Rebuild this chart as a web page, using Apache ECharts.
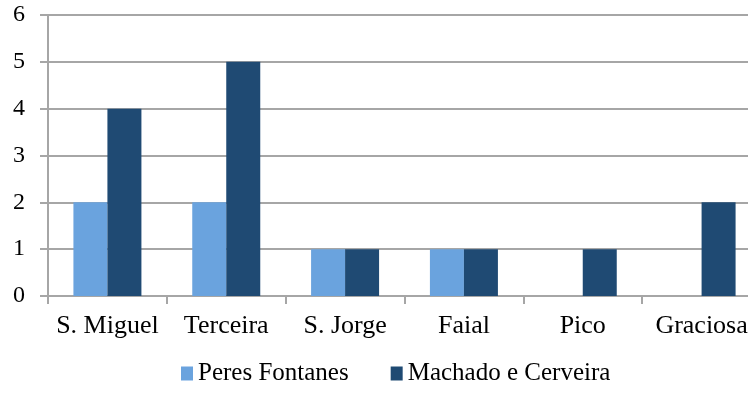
<!DOCTYPE html>
<html>
<head>
<meta charset="utf-8">
<script src="https://cdn.jsdelivr.net/npm/echarts@6/dist/echarts.min.js"></script>
<style>
  html, body { margin: 0; padding: 0; background: #fff; overflow: hidden; }
  /* o gráfico original está cortado à direita, por isso é mais largo que a janela */
  #chart { width: 761px; height: 405px; }
</style>
</head>
<body>
<div id="chart"></div>
<script>
  // dados
  var ilhas = ['S. Miguel', 'Terceira', 'S. Jorge', 'Faial', 'Pico', 'Graciosa'];
  var peresFontanes = [2, 2, 1, 1, 0, 0];
  var machadoCerveira = [4, 5, 1, 1, 1, 2];
  var yTicks = [0, 1, 2, 3, 4, 5, 6];

  var fonte = 'Liberation Serif';
  var cinza = '#a6a6a6';

  var myChart = echarts.init(document.getElementById('chart'));
  myChart.setOption({
    animation: false,
    textStyle: { fontFamily: fonte },
    grid: { left: 48, right: 0, top: 15, bottom: 109 },
    legend: {
      top: 356,
      left: 176,
      itemWidth: 12,
      itemHeight: 14,
      itemGap: 42,
      icon: 'rect',
      textStyle: { fontFamily: fonte, fontSize: 25, color: '#000' },
      data: ['Peres Fontanes', 'Machado e Cerveira']
    },
    xAxis: {
      type: 'category',
      data: ilhas,
      axisLine: { lineStyle: { color: cinza, width: 2 } },
      axisTick: { show: true, interval: 0, length: 8, lineStyle: { color: cinza, width: 2 } },
      axisLabel: { interval: 0, fontFamily: fonte, fontSize: 26, color: '#000', margin: 17 }
    },
    yAxis: {
      type: 'value',
      min: yTicks[0],
      max: yTicks[yTicks.length - 1],
      interval: 1,
      axisLine: { show: true, lineStyle: { color: cinza, width: 2 } },
      axisTick: { show: true, length: 8, lineStyle: { color: cinza, width: 2 } },
      splitLine: { lineStyle: { color: cinza, width: 2 } },
      axisLabel: { fontFamily: fonte, fontSize: 24, color: '#000', margin: 23 }
    },
    series: [
      {
        name: 'Peres Fontanes',
        type: 'bar',
        data: peresFontanes,
        barWidth: 34,
        barGap: '0%',
        itemStyle: { color: '#6aa3de' }
      },
      {
        name: 'Machado e Cerveira',
        type: 'bar',
        data: machadoCerveira,
        barWidth: 34,
        barGap: '0%',
        itemStyle: { color: '#1f4a73' }
      }
    ]
  });
</script>
</body>
</html>
